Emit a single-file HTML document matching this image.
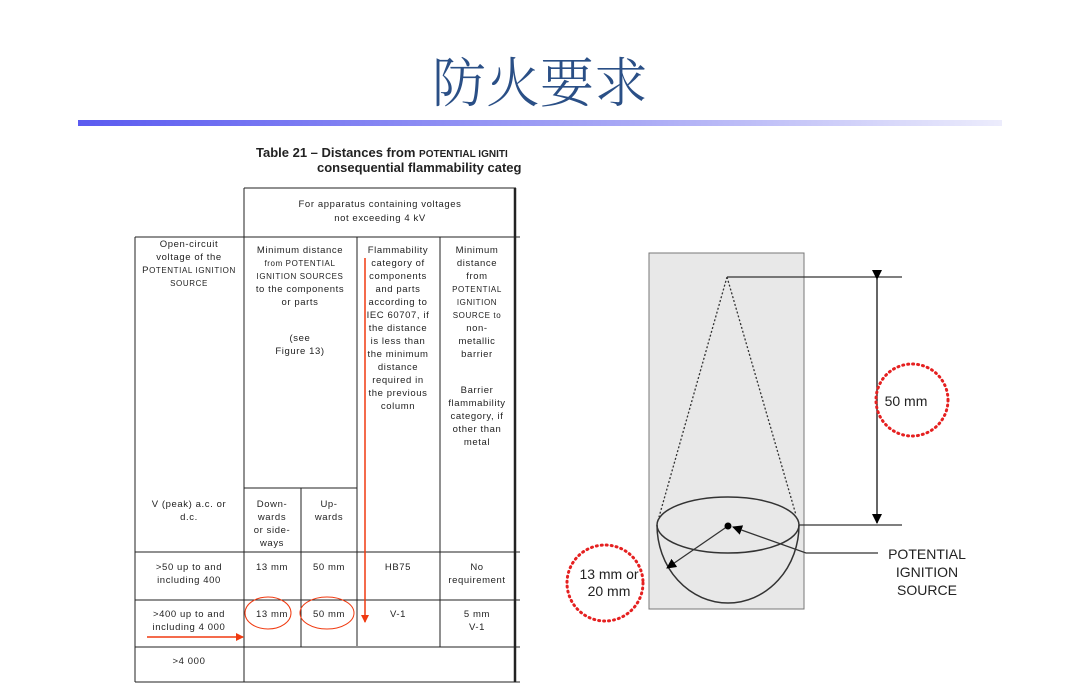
<!DOCTYPE html>
<html><head><meta charset="utf-8"><style>
html,body{margin:0;padding:0;background:#fff;}
body{width:1080px;height:686px;overflow:hidden;position:relative;}
svg{position:absolute;left:0;top:0;}
.t{font-family:"Liberation Sans",Arial,sans-serif;font-size:9.5px;fill:#222;text-anchor:middle;letter-spacing:0.6px;}
.s{font-size:8px;}
.h{font-family:"Liberation Sans",Arial,sans-serif;font-weight:bold;fill:#222;font-size:13px;}
.r{font-family:"Liberation Sans",Arial,sans-serif;font-size:14px;fill:#222;text-anchor:middle;}
</style></head><body>
<svg width="1080" height="686" viewBox="0 0 1080 686">
<defs>
<linearGradient id="g" x1="0" x2="1"><stop offset="0" stop-color="#5b5bf0"/><stop offset="0.6" stop-color="#a9a9f5"/><stop offset="1" stop-color="#ececfc"/></linearGradient>
<marker id="ab" markerWidth="10" markerHeight="10" refX="9" refY="5" orient="auto" markerUnits="userSpaceOnUse"><path d="M0,0 L10,5 L0,10 z" fill="#000"/></marker>
<marker id="ar" markerWidth="8" markerHeight="8" refX="7" refY="4" orient="auto" markerUnits="userSpaceOnUse"><path d="M0,0 L8,4 L0,8 z" fill="#f03a10"/></marker>
</defs>
<text x="540" y="102" text-anchor="middle" font-family="'Noto Serif CJK SC','Liberation Serif',serif" font-weight="300" font-size="54" fill="#2a4f86">防火要求</text>
<rect x="78" y="120" width="924" height="6" fill="url(#g)"/>

<text x="256" y="157" class="h">Table 21 – Distances from <tspan font-size="10">POTENTIAL IGNITI</tspan></text>
<text x="317" y="172" class="h">consequential flammability categ</text>
<rect x="521" y="140" width="30" height="40" fill="#fff"/>
<g stroke="#222" stroke-width="1" fill="none">
<line x1="244" y1="188" x2="516" y2="188"/>
<line x1="135" y1="237" x2="520" y2="237"/>
<line x1="244" y1="488" x2="357" y2="488"/>
<line x1="135" y1="552" x2="520" y2="552"/>
<line x1="135" y1="600" x2="520" y2="600"/>
<line x1="135" y1="647" x2="520" y2="647"/>
<line x1="135" y1="682" x2="520" y2="682"/>
<line x1="135" y1="237" x2="135" y2="682"/>
<line x1="244" y1="188" x2="244" y2="682"/>
<line x1="301" y1="488" x2="301" y2="647"/>
<line x1="357" y1="237" x2="357" y2="646"/>
<line x1="440" y1="237" x2="440" y2="647"/>
<line x1="515" y1="188" x2="515" y2="682" stroke-width="2.5"/>
</g>
<g class="t">
<text x="380" y="207">For apparatus containing voltages</text>
<text x="380" y="221">not exceeding 4 kV</text>
<text x="189" y="247">Open-circuit</text>
<text x="189" y="260">voltage of the</text>
<text x="189" y="273"><tspan>P</tspan><tspan class="s">OTENTIAL IGNITION</tspan></text>
<text x="189" y="286" class="s">SOURCE</text>
<text x="300" y="253">Minimum distance</text>
<text x="300" y="266" class="s">from POTENTIAL</text>
<text x="300" y="279" class="s">IGNITION SOURCES</text>
<text x="300" y="292">to the components</text>
<text x="300" y="305">or parts</text>
<text x="300" y="341">(see</text>
<text x="300" y="354">Figure 13)</text>
<text x="398" y="253">Flammability</text>
<text x="398" y="266">category of</text>
<text x="398" y="279">components</text>
<text x="398" y="292">and parts</text>
<text x="398" y="305">according to</text>
<text x="398" y="318">IEC 60707, if</text>
<text x="398" y="331">the distance</text>
<text x="398" y="344">is less than</text>
<text x="398" y="357">the minimum</text>
<text x="398" y="370">distance</text>
<text x="398" y="383">required in</text>
<text x="398" y="396">the previous</text>
<text x="398" y="409">column</text>
<text x="477" y="253">Minimum</text>
<text x="477" y="266">distance</text>
<text x="477" y="279">from</text>
<text x="477" y="292" class="s">POTENTIAL</text>
<text x="477" y="305" class="s">IGNITION</text>
<text x="477" y="318" class="s">SOURCE to</text>
<text x="477" y="331">non-</text>
<text x="477" y="344">metallic</text>
<text x="477" y="357">barrier</text>
<text x="477" y="393">Barrier</text>
<text x="477" y="406">flammability</text>
<text x="477" y="419">category, if</text>
<text x="477" y="432">other than</text>
<text x="477" y="445">metal</text>
<text x="189" y="507">V (peak) a.c. or</text>
<text x="189" y="520">d.c.</text>
<text x="272" y="507">Down-</text>
<text x="272" y="520">wards</text>
<text x="272" y="533">or side-</text>
<text x="272" y="546">ways</text>
<text x="329" y="507">Up-</text>
<text x="329" y="520">wards</text>
<text x="189" y="570">&gt;50 up to and</text>
<text x="189" y="583">including 400</text>
<text x="272" y="570">13 mm</text>
<text x="329" y="570">50 mm</text>
<text x="398" y="570">HB75</text>
<text x="477" y="570">No</text>
<text x="477" y="583">requirement</text>
<text x="189" y="617">&gt;400 up to and</text>
<text x="189" y="630">including 4 000</text>
<text x="272" y="617">13 mm</text>
<text x="329" y="617">50 mm</text>
<text x="398" y="617">V-1</text>
<text x="477" y="617">5 mm</text>
<text x="477" y="630">V-1</text>
<text x="189" y="664">&gt;4 000</text>
</g>
<g stroke="#f03a10" stroke-width="1.5" fill="none">
<line x1="365" y1="258" x2="365" y2="622" marker-end="url(#ar)"/>
<line x1="147" y1="637" x2="243" y2="637" marker-end="url(#ar)"/>
<ellipse cx="268" cy="613" rx="23" ry="16" stroke-width="1"/>
<ellipse cx="327" cy="613" rx="27" ry="16" stroke-width="1"/>
</g>

<rect x="649" y="253" width="155" height="356" fill="#e8e8e8" stroke="#777" stroke-width="1"/>
<g stroke="#333" fill="none" stroke-width="1.3">
<path d="M727,277 L659,517 M727,277 L796,515" stroke-dasharray="2,2"/>
<path d="M657,525 A71,78 0 0 0 799,525" stroke-width="1.5"/>
<ellipse cx="728" cy="525" rx="71" ry="28" stroke-width="1.5"/>
<line x1="727" y1="277" x2="902" y2="277"/>
<line x1="799" y1="525" x2="902" y2="525"/>
<line x1="877" y1="279" x2="877" y2="523" marker-start="url(#ab)" marker-end="url(#ab)" stroke-width="1.5"/>
<line x1="728" y1="526" x2="667" y2="568" marker-end="url(#ab)"/>
<polyline points="878,553 806,553 733,527" marker-end="url(#ab)"/>
</g>
<circle cx="728" cy="526" r="3.5" fill="#000"/>
<circle cx="912" cy="400" r="36" fill="none" stroke="#e52020" stroke-width="3" stroke-dasharray="1,4" stroke-linecap="round"/>
<circle cx="605" cy="583" r="38" fill="none" stroke="#e52020" stroke-width="3" stroke-dasharray="1,4" stroke-linecap="round"/>
<text x="906" y="406" class="r">50 mm</text>
<text x="609" y="579" class="r">13 mm or</text>
<text x="609" y="596" class="r">20 mm</text>
<text x="927" y="559" class="r">POTENTIAL</text>
<text x="927" y="577" class="r">IGNITION</text>
<text x="927" y="595" class="r">SOURCE</text>
</svg>
</body></html>
